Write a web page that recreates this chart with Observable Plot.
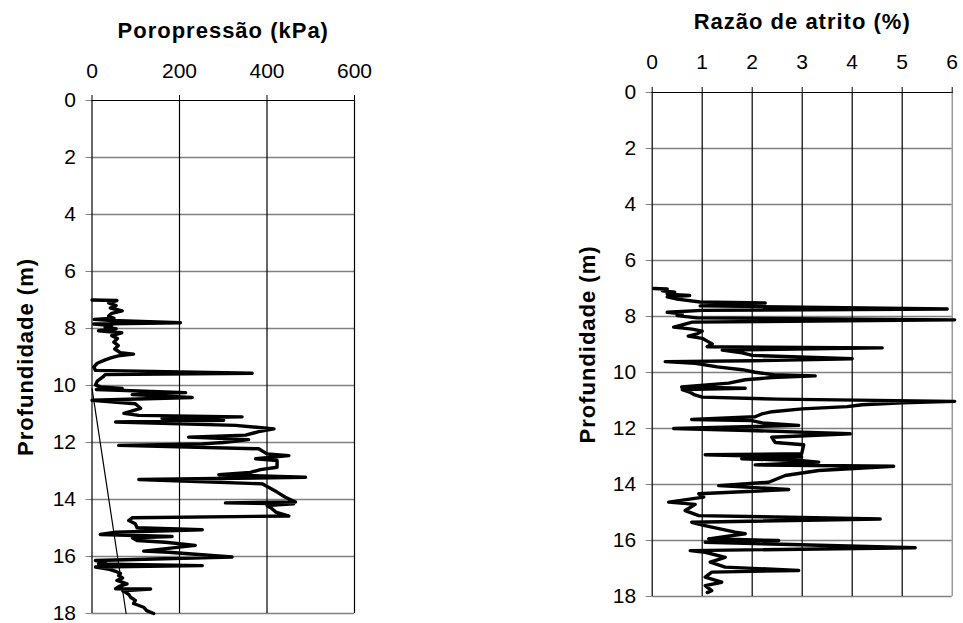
<!DOCTYPE html>
<html>
<head>
<meta charset="utf-8">
<script src="https://cdn.jsdelivr.net/npm/d3@7"></script>
<script src="https://cdn.jsdelivr.net/npm/@observablehq/plot@0.6"></script>
<style>
  html, body { margin: 0; padding: 0; background: white; }
  #wrap { position: relative; width: 963px; height: 623px; background: white; }
  #wrap svg { position: absolute; top: 0; }
</style>
</head>
<body>
<div id="wrap"></div>
<script>
// ---- Data ----
const titlePoro = "Poropressão (kPa)";
const titleRatio = "Razão de atrito (%)";
const yLabel = "Profundidade (m)";

const depthTicks = [0, 2, 4, 6, 8, 10, 12, 14, 16, 18];
const poroTicks = [0, 200, 400, 600];
const ratioTicks = [0, 1, 2, 3, 4, 5, 6];

// Pore pressure profile
const poroDepth = [7.0, 7.02, 7.1, 7.2, 7.28, 7.38, 7.47, 7.56, 7.64, 7.68, 7.72, 7.8, 7.84, 7.9, 7.96, 8.01, 8.08, 8.15, 8.25, 8.35, 8.48, 8.6, 8.72, 8.85, 8.9, 8.96, 9.02, 9.1, 9.22, 9.35, 9.47, 9.57, 9.62, 9.7, 9.85, 9.98, 10.05, 10.1, 10.14, 10.25, 10.32, 10.42, 10.52, 10.64, 10.8, 10.98, 11.05, 11.1, 11.15, 11.22, 11.28, 11.4, 11.52, 11.62, 11.74, 11.81, 11.9, 12.0, 12.05, 12.1, 12.22, 12.4, 12.46, 12.57, 12.63, 12.87, 12.95, 13.05, 13.13, 13.22, 13.3, 13.45, 13.74, 13.92, 14.09, 14.12, 14.15, 14.21, 14.33, 14.44, 14.58, 14.64, 14.74, 14.85, 14.99, 15.06, 15.15, 15.23, 15.3, 15.34, 15.44, 15.5, 15.61, 15.81, 15.85, 16.02, 16.14, 16.2, 16.26, 16.32, 16.37, 16.45, 16.52, 16.6, 16.67, 16.75, 16.84, 16.96, 17.05, 17.13, 17.14, 17.2, 17.25, 17.35, 17.43, 17.54, 17.65, 17.78, 17.9, 18.0];
const poroValue = [0, 57, 38, 55, 42, 69, 45, 38, 50, 5, 45, 202, 4, 45, 30, 55, 15, 68, 45, 58, 50, 60, 52, 65, 95, 60, 45, 30, 12, 4, 8, 366, 30, 25, 12, 8, 20, 69, 10, 214, 92, 229, 0, 99, 111, 73, 107, 343, 160, 301, 54, 328, 416, 381, 351, 221, 358, 300, 252, 61, 381, 400, 450, 374, 423, 423, 385, 362, 290, 488, 107, 389, 423, 442, 465, 305, 461, 400, 412, 420, 450, 92, 84, 99, 103, 252, 54, 19, 183, 92, 103, 168, 236, 118, 175, 320, 8, 30, 15, 252, 8, 40, 54, 65, 61, 70, 57, 80, 62, 54, 134, 70, 76, 85, 88, 99, 95, 118, 125, 141];

// Hydrostatic line
const hydroDepth = [10.1, 18.0];
const hydroValue = [0, 78];

// Friction ratio profile
const ratioDepth = [7.0, 7.02, 7.08, 7.13, 7.2, 7.25, 7.3, 7.38, 7.48, 7.52, 7.55, 7.58, 7.62, 7.73, 7.78, 7.85, 7.9, 7.97, 8.05, 8.12, 8.2, 8.3, 8.38, 8.45, 8.52, 8.62, 8.7, 8.78, 8.88, 8.98, 9.08, 9.12, 9.2, 9.3, 9.39, 9.51, 9.58, 9.61, 9.67, 9.8, 9.9, 9.99, 10.08, 10.12, 10.18, 10.26, 10.38, 10.52, 10.56, 10.61, 10.7, 10.8, 10.88, 10.95, 11.03, 11.08, 11.15, 11.22, 11.3, 11.4, 11.48, 11.58, 11.68, 11.72, 11.8, 11.89, 12.0, 12.07, 12.19, 12.31, 12.5, 12.58, 12.9, 12.94, 13.02, 13.08, 13.15, 13.2, 13.3, 13.35, 13.5, 13.68, 13.92, 14.04, 14.18, 14.33, 14.45, 14.63, 14.71, 14.93, 15.11, 15.23, 15.35, 15.46, 15.7, 15.76, 15.94, 16.0, 16.06, 16.26, 16.36, 16.42, 16.6, 16.77, 16.95, 17.07, 17.13, 17.31, 17.49, 17.61, 17.79, 17.86];
const ratioValue = [0.03, 0.3, 0.2, 0.45, 0.3, 0.75, 0.3, 0.5, 0.96, 2.26, 1.5, 1.9, 0.96, 5.9, 1.0, 0.3, 0.6, 0.5, 0.9, 6.05, 0.8, 0.6, 0.43, 0.8, 1.0, 0.9, 0.72, 1.0, 1.1, 1.2, 1.1, 4.6, 1.4, 1.8, 2.0, 4.0, 2.0, 0.26, 0.86, 1.3, 1.8, 2.06, 2.43, 3.26, 2.4, 1.86, 1.53, 0.59, 1.86, 0.6, 0.75, 0.85, 1.0, 2.5, 6.05, 5.0, 4.2, 3.9, 3.0, 2.4, 2.19, 2.06, 0.79, 1.99, 2.2, 2.93, 0.43, 1.93, 3.96, 2.39, 2.46, 3.03, 2.99, 1.06, 2.99, 1.79, 3.0, 3.33, 2.06, 4.83, 3.33, 2.66, 2.33, 1.33, 2.73, 0.93, 1.03, 0.33, 0.86, 0.66, 0.93, 4.56, 0.79, 1.03, 1.66, 1.86, 1.13, 2.53, 1.06, 5.26, 0.76, 1.06, 1.46, 1.16, 1.46, 2.93, 1.19, 1.06, 1.39, 1.06, 1.19, 1.1];

// ---- Tables ----
const poroData = poroDepth.map((d, i) => ({d, v: poroValue[i]}));
const hydroData = hydroDepth.map((d, i) => ({d, v: hydroValue[i]}));
const ratioData = ratioDepth.map((d, i) => ({d, v: ratioValue[i]}));

const FONT = "'Liberation Sans', Arial, Helvetica, sans-serif";

function panel({width, marginLeft, marginRight, marginTop, marginBottom, xDomain, xTicks, gridColorLast, title, series, extra, titleDy, labelDx, topPad}) {
  const vGrid = xTicks.slice(1);
  return Plot.plot({
    width, height: 623,
    marginLeft, marginRight, marginTop, marginBottom,
    x: {domain: xDomain, axis: null},
    y: {domain: [0, 18], reverse: true, axis: null},
    style: {fontFamily: FONT, fontSize: "21px", background: "white", color: "black", overflow: "visible"},
    marks: [
      Plot.ruleY(depthTicks.slice(1), {stroke: "#808080", strokeWidth: 1.4}),
      Plot.ruleX(vGrid, {stroke: (d) => d === xDomain[1] ? gridColorLast : "black", strokeWidth: 1.2}),
      Plot.axisY({anchor: "left", ticks: depthTicks, tickSize: 6, tickPadding: 10, tickFormat: d => String(d), label: null, stroke: "#808080", fill: "black", fontSize: 21}),
      Plot.axisX({anchor: "top", ticks: xTicks, tickSize: 6, tickPadding: topPad, tickFormat: d => String(d), label: null, stroke: "black", fill: "black", fontSize: 21}),
      Plot.ruleY([0], {stroke: "black", strokeWidth: 1.2}),
      Plot.ruleX([0], {stroke: "black", strokeWidth: 1.2}),
      ...extra,
      Plot.line(series, {x: "v", y: "d", stroke: "black", strokeWidth: 3.4, strokeLinejoin: "round", strokeLinecap: "round"}),
      Plot.text([title], {frameAnchor: "top", textAnchor: "middle", lineAnchor: "middle", dy: titleDy, fontWeight: "bold", fontSize: 22}),
      Plot.text([yLabel], {frameAnchor: "left", textAnchor: "middle", lineAnchor: "middle", dx: labelDx, rotate: -90, fontWeight: "bold", fontSize: 22})
    ]
  });
}

const left = panel({
  width: 400, marginLeft: 91.5, marginRight: 46, marginTop: 100, marginBottom: 10,
  xDomain: [0, 600], xTicks: poroTicks, gridColorLast: "black",
  title: titlePoro, series: poroData, titleDy: -70, labelDx: -66.5, topPad: 17,
  extra: [Plot.line(hydroData, {x: "v", y: "d", stroke: "black", strokeWidth: 1.2})]
});
left.style.left = "0px";

const right = panel({
  width: 403, marginLeft: 91.7, marginRight: 11.3, marginTop: 92, marginBottom: 27,
  xDomain: [0, 6], xTicks: ratioTicks, gridColorLast: "#808080",
  title: titleRatio, series: ratioData, titleDy: -70.5, labelDx: -64.7, topPad: 18,
  extra: []
});
right.style.left = "560px";

const wrap = document.getElementById("wrap");
wrap.appendChild(left);
wrap.appendChild(right);

// widen bold labels slightly, like the original
for (const svg of [left, right]) {
  d3.select(svg).selectAll("text")
    .filter(function () { return [titlePoro, titleRatio, yLabel].includes(this.textContent); })
    .attr("letter-spacing", "1px");
}
</script>
</body>
</html>
